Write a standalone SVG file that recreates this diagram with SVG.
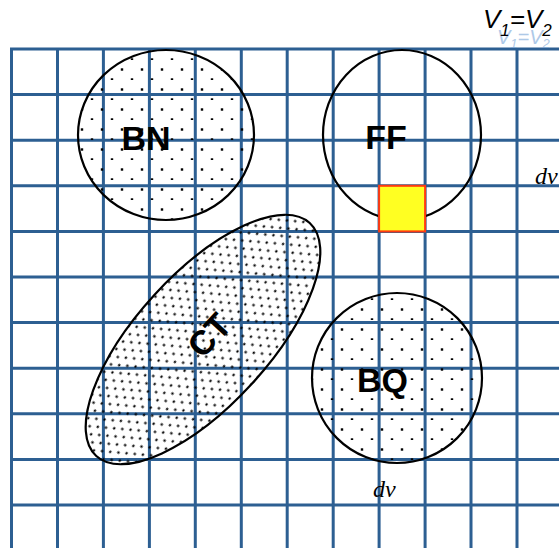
<svg xmlns="http://www.w3.org/2000/svg" width="559" height="548" viewBox="0 0 559 548">
  <defs>
    <pattern id="dotsCoarse" width="20" height="20" patternUnits="userSpaceOnUse">
      <rect x="0.8" y="8.3" width="2.4" height="2.4" fill="#000"/>
      <rect x="10.8" y="18.3" width="2.4" height="2.4" fill="#000"/>
    </pattern>
    <pattern id="dotsFine" width="10" height="13" patternUnits="userSpaceOnUse">
      <rect x="1.4" y="1.4" width="2.2" height="2.2" fill="#000"/>
      <rect x="6.4" y="7.9" width="2.2" height="2.2" fill="#000"/>
    </pattern>
    <clipPath id="ghostClip">
      <rect x="480" y="28" width="79" height="20"/>
    </clipPath>
    <style>
      .grid line { stroke: #2d5f92; stroke-width: 3; }
      .shape { stroke: #000; stroke-width: 2.2; }
      .lbl { font-family: "Liberation Sans", Arial, sans-serif; font-weight: bold; font-size: 34px; fill: #000; text-anchor: middle; }
      .dv { font-family: "Liberation Serif", "Times New Roman", serif; font-style: italic; font-size: 24px; fill: #000; }
      .eq { font-family: "Liberation Sans", Arial, sans-serif; font-style: italic; font-size: 26px; fill: #000; }
    </style>
  </defs>
  <rect width="559" height="548" fill="#fff"/>

  <g id="grid" class="grid">
    <line x1="11.5" y1="49" x2="11.5" y2="548"/>
    <line x1="57.5" y1="49" x2="57.5" y2="548"/>
    <line x1="103.4" y1="49" x2="103.4" y2="548"/>
    <line x1="149.4" y1="49" x2="149.4" y2="548"/>
    <line x1="195.3" y1="49" x2="195.3" y2="548"/>
    <line x1="241.3" y1="49" x2="241.3" y2="548"/>
    <line x1="287.2" y1="49" x2="287.2" y2="548"/>
    <line x1="333.2" y1="49" x2="333.2" y2="548"/>
    <line x1="379.1" y1="49" x2="379.1" y2="548"/>
    <line x1="425.1" y1="49" x2="425.1" y2="548"/>
    <line x1="471" y1="49" x2="471" y2="548"/>
    <line x1="517" y1="49" x2="517" y2="548"/>
    <line x1="10" y1="49" x2="559" y2="49"/>
    <line x1="10" y1="94.6" x2="559" y2="94.6"/>
    <line x1="10" y1="140.2" x2="559" y2="140.2"/>
    <line x1="10" y1="185.8" x2="559" y2="185.8"/>
    <line x1="10" y1="231.4" x2="559" y2="231.4"/>
    <line x1="10" y1="277" x2="559" y2="277"/>
    <line x1="10" y1="322.6" x2="559" y2="322.6"/>
    <line x1="10" y1="368.2" x2="559" y2="368.2"/>
    <line x1="10" y1="413.8" x2="559" y2="413.8"/>
    <line x1="10" y1="459.4" x2="559" y2="459.4"/>
    <line x1="10" y1="505" x2="559" y2="505"/>
  </g>

  <g id="connectors"/>

  <g id="node-BN">
    <ellipse class="shape" cx="166" cy="135" rx="88" ry="85" fill="url(#dotsCoarse)"/>
    <text class="lbl" x="146" y="150">BN</text>
  </g>

  <g id="node-FF">
    <ellipse class="shape" cx="402" cy="135" rx="79" ry="85" fill="none"/>
    <text class="lbl" x="386" y="149">FF</text>
  </g>

  <g id="node-CT">
    <ellipse class="shape" cx="203" cy="339.5" rx="158" ry="66" transform="rotate(-47.5 203 339.5)" fill="url(#dotsFine)"/>
    <text class="lbl" x="0" y="0" dominant-baseline="central" transform="translate(209 335) rotate(-47.5)">CT</text>
  </g>

  <g id="node-BQ">
    <circle class="shape" cx="397" cy="378" r="85" fill="url(#dotsCoarse)"/>
    <text class="lbl" x="382.5" y="392">BQ</text>
  </g>

  <g id="cell">
    <rect x="379.1" y="185.8" width="46" height="45.6" fill="#ffff22" stroke="#ff3a10" stroke-width="2"/>
  </g>

  <g id="labels">
    <text class="dv" x="535" y="184">dv</text>
    <text class="dv" x="373" y="497">dv</text>
    <text clip-path="url(#ghostClip)" font-family="Liberation Sans, Arial, sans-serif" font-style="italic" font-size="20" fill="#7aa6d8" opacity="0.6" x="497" y="44">V<tspan font-size="13" dy="4">1</tspan><tspan dy="-4">=V</tspan><tspan font-size="13" dy="4">2</tspan></text>
    <text class="eq" x="483" y="28">V<tspan font-size="17" dy="8">1</tspan><tspan dy="-8">=V</tspan><tspan font-size="17" dy="8">2</tspan></text>
  </g>
</svg>
